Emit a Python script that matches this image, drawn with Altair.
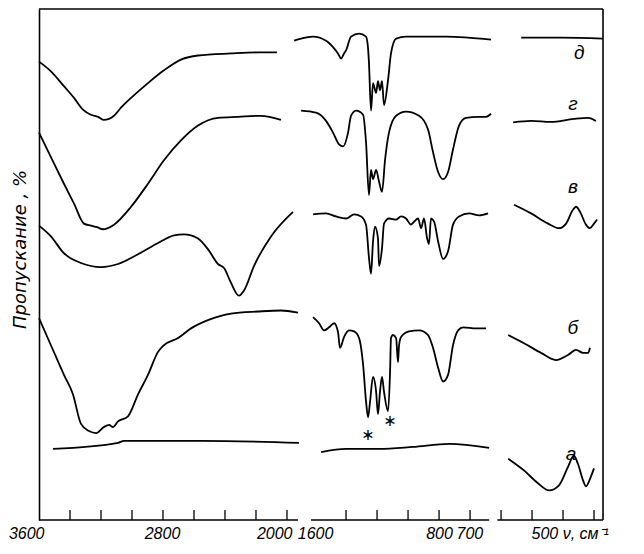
import altair as alt
import pandas as pd

# ---------------- data: wavenumber (cm^-1) and transmission (%, spectra offset) ----------------
# Panel 1 (3600-2000 cm^-1)
a1_nu = [3510, 3090, 3052, 2555, 1923]
a1_t = [13.9, 15.1, 15.5, 15.5, 15.1]
b1_nu = [3600, 3523, 3439, 3381, 3329, 3277, 3232, 3181, 3148, 3123, 3090, 3026, 2961, 2897,
         2832, 2794, 2703, 2619, 2510, 2361, 2187, 2039, 1929]
b1_t = [39.5, 34.2, 28.4, 24.6, 18.8, 17.4, 17.0, 18.2, 18.6, 18.2, 19.3, 20.3, 24.6, 28.4,
        32.9, 34.2, 35.6, 37.5, 39.1, 40.4, 40.8, 41.0, 40.6]
v1_nu = [3600, 3523, 3439, 3329, 3200, 3090, 2961, 2832, 2729, 2665, 2574, 2510, 2445, 2406,
         2361, 2310, 2277, 2213, 2103, 1961]
v1_t = [57.6, 55.5, 52.2, 50.3, 49.5, 50.1, 52.0, 54.2, 55.7, 55.9, 55.1, 53.0, 50.1, 49.3,
        46.4, 43.9, 44.9, 49.7, 55.5, 60.3]
g1_nu = [3600, 3523, 3439, 3374, 3310, 3265, 3226, 3187, 3116, 3006, 2897, 2794, 2684, 2574,
         2445, 2316, 2168, 2039]
g1_t = [75.8, 71.0, 65.8, 61.9, 58.0, 57.6, 57.3, 56.9, 57.8, 61.3, 65.8, 70.4, 74.3, 77.2,
        78.7, 78.9, 79.1, 78.3]
d1_nu = [3600, 3523, 3439, 3374, 3316, 3265, 3219, 3181, 3116, 3071, 3006, 2897, 2794, 2684,
         2574, 2361, 2187, 2065]
d1_t = [89.7, 87.8, 84.9, 82.6, 80.3, 79.3, 78.9, 78.3, 79.1, 80.7, 82.6, 85.5, 88.0, 90.1,
        90.9, 91.3, 91.5, 91.5]

# Panel 2 (1600-700 cm^-1)
a2_nu = [1561, 1400, 1187, 968, 735, 477]
a2_t = [13.3, 13.9, 13.9, 14.3, 14.9, 14.1]
b2_nu = [1613, 1574, 1542, 1510, 1477, 1452, 1439, 1413, 1381, 1348, 1316, 1290, 1271, 1258,
         1245, 1226, 1206, 1194, 1181, 1168, 1155, 1129, 1116, 1110, 1097, 1077, 1065, 1058,
         1045, 994, 929, 871, 839, 806, 774, 742, 710, 677, 645, 561, 497]
b2_t = [39.7, 38.5, 37.1, 37.7, 38.5, 36.8, 33.7, 35.8, 37.1, 36.9, 35.6, 30.4, 23.2, 20.1,
        23.2, 28.0, 25.1, 20.7, 25.1, 28.0, 25.1, 21.3, 29.0, 35.6, 36.2, 35.6, 30.9, 34.2,
        35.8, 36.9, 37.1, 36.2, 33.7, 29.8, 27.1, 28.4, 34.2, 37.1, 37.7, 37.5, 37.5]
v2_nu = [1613, 1529, 1465, 1400, 1348, 1303, 1271, 1252, 1239, 1226, 1213, 1194, 1187, 1168,
         1155, 1123, 1077, 1045, 1013, 981, 961, 935, 916, 897, 877, 865, 852, 832, 806, 774,
         742, 710, 671, 606, 542, 484]
v2_t = [59.8, 60.0, 59.4, 59.0, 59.8, 59.4, 57.8, 51.3, 48.2, 54.5, 57.4, 55.1, 49.7, 53.2,
        58.0, 59.0, 58.8, 59.4, 59.0, 57.8, 58.4, 59.0, 57.1, 59.0, 55.1, 54.0, 59.0, 58.4,
        54.5, 51.1, 52.6, 57.8, 59.4, 60.0, 59.6, 60.0]
g2_nu = [1690, 1594, 1529, 1484, 1445, 1419, 1387, 1368, 1335, 1290, 1271, 1252, 1239, 1226,
         1206, 1187, 1168, 1148, 1123, 1077, 1013, 929, 871, 839, 806, 774, 742, 710, 671, 626,
         548, 497, 465]
g2_t = [80.1, 79.7, 78.1, 75.8, 73.5, 73.1, 75.8, 79.1, 80.1, 79.3, 73.9, 63.6, 68.5, 66.7,
        68.5, 66.2, 64.2, 70.6, 75.8, 79.1, 79.9, 79.1, 76.4, 72.0, 68.1, 66.7, 68.1, 72.5,
        77.2, 78.7, 78.9, 78.9, 79.5]
d2_nu = [1735, 1690, 1613, 1529, 1477, 1452, 1432, 1413, 1400, 1368, 1316, 1271, 1258, 1252,
         1239, 1226, 1206, 1194, 1181, 1168, 1155, 1129, 1110, 1077, 1013, 755, 465]
d2_t = [93.8, 94.2, 94.6, 93.8, 92.3, 91.3, 90.3, 91.3, 91.9, 94.6, 95.2, 94.6, 92.3, 89.4,
        80.1, 85.5, 83.6, 85.9, 84.1, 85.9, 81.2, 86.1, 91.3, 94.2, 94.6, 94.6, 94.0]

# Panel 3 (700-400 cm^-1)
a3_nu = [677, 626, 581, 545, 513, 484, 465, 452, 435, 426, 410, 400]
a3_t = [12.0, 9.7, 7.2, 5.8, 6.8, 10.4, 12.6, 11.0, 7.7, 6.6, 8.5, 10.1]
b3_nu = [677, 626, 571, 523, 484, 458, 435, 419, 413]
b3_t = [36.2, 34.6, 32.7, 31.3, 32.3, 33.3, 32.7, 32.7, 33.7]
v3_nu = [658, 603, 548, 513, 490, 468, 458, 445, 426, 413, 400, 390]
v3_t = [61.7, 60.0, 58.0, 57.1, 58.0, 60.7, 61.3, 60.3, 57.8, 57.1, 58.0, 58.8]
g3_nu = [661, 603, 539, 465, 419, 394]
g3_t = [77.8, 78.1, 77.9, 78.5, 78.7, 78.1]
d3_nu = [635, 506, 371]
d3_t = [94.4, 94.4, 94.2]

# curve letters (panel 3) and marked bands (panel 2)
letters = ["д", "г", "в", "б", "а"]
letters_nu = [448, 468, 468, 468, 474]
letters_t = [91.3, 81.4, 65.2, 37.5, 13.0]
stars_nu = [1258, 1116]
stars_t = [16.6, 19.3]

# axis ticks and labels
ticks1 = [3400, 3200, 3000, 2800, 2600, 2400, 2200, 2000]
ticks2 = [1400, 1200, 1000, 800, 600]
ticks3 = [700, 600, 500, 400]
labels1 = [3600, 2800, 2000]
labels2 = [1600, 800]
labels3 = [700, 500]
y_title = "Пропускание , %"

# ---------------- helpers ----------------
def curves(spec):
    rows = []
    for name, nu, t in spec:
        for a, b in zip(nu, t):
            rows.append({"curve": name, "nu": a, "t": b})
    return pd.DataFrame(rows)

df1 = curves([("а", a1_nu, a1_t), ("б", b1_nu, b1_t), ("в", v1_nu, v1_t),
              ("г", g1_nu, g1_t), ("д", d1_nu, d1_t)])
df2 = curves([("а", a2_nu, a2_t), ("б", b2_nu, b2_t), ("в", v2_nu, v2_t),
              ("г", g2_nu, g2_t), ("д", d2_nu, d2_t)])
df3 = curves([("а", a3_nu, a3_t), ("б", b3_nu, b3_t), ("в", v3_nu, v3_t),
              ("г", g3_nu, g3_t), ("д", d3_nu, d3_t)])

H = 511
NUM_FONT = "Liberation Sans"
TXT_FONT = "DejaVu Sans"
LW = 1.8


def panel(df, dom, width, ticks, seg, label_vals, label_align, label_offset,
          label_expr, yaxis, extra=None, right_frame=False):
    xs = alt.Scale(domain=dom, reverse=True, nice=False, zero=False)
    ys = alt.Scale(domain=[0, 100], nice=False, zero=False)
    x_axis = alt.Axis(values=label_vals, format="d", ticks=False, domain=False, grid=False,
                      title=None, labelFont=NUM_FONT, labelFontStyle="italic",
                      labelFontSize=16, labelColor="black", labelPadding=5, labelFlush=False,
                      labelAlign=label_align, labelOffset=label_offset,
                      labelExpr=label_expr)
    x_enc = alt.X("nu:Q", scale=xs, axis=x_axis)
    y_enc = alt.Y("t:Q", scale=ys, axis=yaxis)

    lines = alt.Chart(df).mark_line(color="black", strokeWidth=LW,
                                    interpolate="monotone").encode(
        x=x_enc, y=y_enc, detail="curve:N")
    tick_marks = alt.Chart(pd.DataFrame({"nu": ticks})).mark_rule(
        color="black", strokeWidth=1.3).encode(
        x=x_enc, y=alt.value(H), y2=alt.value(H - 10))
    bottom = alt.Chart(pd.DataFrame({"nu": [seg[0]], "nu2": [seg[1]]})).mark_rule(
        color="black", strokeWidth=1.6).encode(
        x=x_enc, x2="nu2:Q", y=alt.value(H))
    top = alt.Chart(pd.DataFrame({"k": [0]})).mark_rule(
        color="black", strokeWidth=1.6).encode(
        x=alt.value(0), x2=alt.value(width), y=alt.value(0))
    layers = [lines, tick_marks, bottom, top]
    if right_frame:
        layers.append(alt.Chart(pd.DataFrame({"k": [0]})).mark_rule(
            color="black", strokeWidth=1.6).encode(
            x=alt.value(width), y=alt.value(0), y2=alt.value(H)))
    if extra is not None:
        for e in extra:
            layers.append(e(x_enc, y_enc))
    return alt.layer(*layers).properties(width=width, height=H)


y_axis1 = alt.Axis(title=y_title, titleFont=TXT_FONT, titleFontStyle="italic",
                   titleFontWeight="normal", titleFontSize=18, titleColor="black",
                   titlePadding=10, titleY=240, labels=False, ticks=False, grid=False,
                   domain=True, domainColor="black", domainWidth=1.6)


def stars_layer(x_enc, y_enc):
    return alt.Chart(pd.DataFrame({"nu": stars_nu, "t": stars_t})).mark_text(
        text="∗", font=TXT_FONT, fontSize=16, color="black", baseline="middle",
        align="center").encode(x=x_enc, y=y_enc)


def letters_layer(x_enc, y_enc):
    return alt.Chart(pd.DataFrame({"nu": letters_nu, "t": letters_t, "lab": letters})).mark_text(
        font=NUM_FONT, fontStyle="italic", fontSize=19, color="black", baseline="middle",
        align="center").encode(x=x_enc, y=y_enc, text="lab:N")


p1 = panel(df1, [1916, 3600], 261, ticks1, [1929, 3600], labels1,
           {"condition": {"test": "datum.value == 2800", "value": "center"}, "value": "right"},
           {"condition": {"test": "datum.value == 2800", "value": -1}, "value": 5},
           "datum.label", y_axis1)
p2 = panel(df2, [452, 1697], 193, ticks2, [477, 1626], labels2, "center", 0,
           "datum.label", None, extra=[stars_layer])
p3 = panel(df3, [371, 726], 110, ticks3, [371, 712], labels3, "left",
           {"condition": {"test": "datum.value == 700", "value": -45}, "value": -32},
           "datum.value == 500 ? '500 ν, см⁻¹' : datum.label", None,
           extra=[letters_layer], right_frame=True)

chart = alt.hconcat(p1, p2, p3, spacing=0, bounds="flush").properties(
    padding={"left": 0, "top": 0, "right": 0, "bottom": 0},
    background="white",
).configure_view(stroke=None)

chart.save("out.html", embed_options={"renderer": "svg", "actions": False})
